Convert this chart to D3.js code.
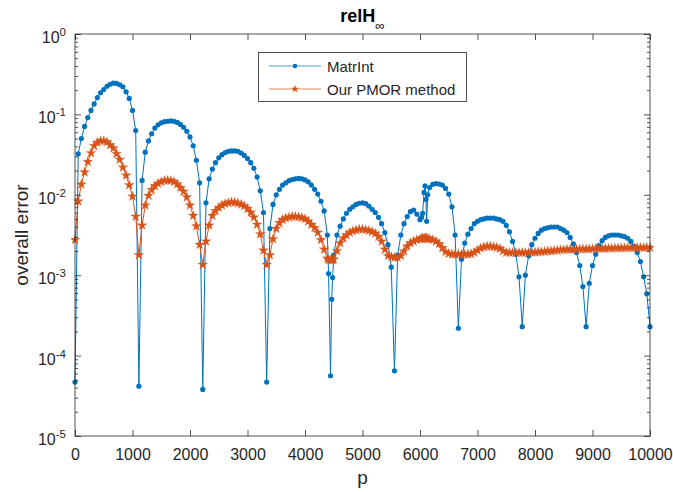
<!DOCTYPE html>
<html>
<head>
<meta charset="utf-8">
<script src="https://cdn.jsdelivr.net/npm/d3@7"></script>
<style>
  body { margin: 0; background: #fff; }
  svg { display: block; font-family: "Liberation Sans", Arial, Helvetica, sans-serif; }
</style>
</head>
<body>
<script>
// ---- data ----
const p = [
  0,56,111,167,222,278,333,389,444,500,556,611,667,722,778,833,889,944,1000,1056,1111,
  1167,1222,1278,1333,1389,1444,1500,1556,1611,1667,1722,1778,1833,1889,1944,2000,2056,2111,2167,2222,
  2278,2333,2389,2444,2500,2556,2611,2667,2722,2778,2833,2889,2944,3000,3056,3111,3167,3222,3278,3333,
  3389,3444,3500,3556,3611,3667,3722,3778,3833,3889,3944,4000,4056,4111,4167,4222,4278,4333,4389,4410,4444,4465,4480,
  4500,4556,4611,4667,4722,4778,4833,4889,4944,5000,5056,5111,5167,5222,5278,5333,5389,5444,5500,5556,
  5611,5667,5722,5778,5833,5889,5944,6000,6028,6047,6070,6087,6104,6116,6134,6167,6222,6278,6333,6389,6444,6500,6556,6611,6667,
  6722,6778,6833,6889,6944,7000,7056,7111,7167,7222,7278,7333,7389,7444,7500,7556,7611,7667,7722,7778,
  7833,7889,7944,8000,8056,8111,8167,8222,8278,8333,8389,8444,8500,8556,8611,8667,8722,8778,8833,8889,
  8944,9000,9056,9111,9167,9222,9278,9333,9389,9444,9500,9556,9611,9667,9722,9778,9833,9889,9944,10000
];

const matrInt = [
  4.68e-5,3.24e-2,5.01e-2,7.08e-2,9.12e-2,0.112,0.135,0.162,0.186,0.204,0.224,0.237,0.245,0.243,0.234,0.221,0.191,0.158,0.112,0.0631,4.17e-5,
  0.0151,0.0339,0.0468,0.0575,0.0676,0.0741,0.0785,0.0813,0.0822,0.0832,0.0822,0.0794,0.0750,0.0692,0.0617,0.0525,0.0407,0.0269,0.0141,3.80e-5,
  7.94e-3,0.0158,0.0209,0.0251,0.0288,0.0316,0.0335,0.0347,0.0351,0.0351,0.0347,0.0331,0.0309,0.0282,0.0251,0.0214,0.0166,0.0112,6.03e-3,4.68e-5,
  3.80e-3,7.59e-3,0.0100,0.0117,0.0132,0.0141,0.0150,0.0155,0.0158,0.0160,0.0158,0.0153,0.0145,0.0132,0.0117,0.0102,8.32e-3,6.31e-3,3.16e-3,1.05e-3,5.62e-5,5.01e-4,9.33e-4,
  1.78e-3,3.16e-3,4.07e-3,5.01e-3,5.89e-3,6.61e-3,7.08e-3,7.59e-3,7.85e-3,7.94e-3,7.76e-3,7.24e-3,6.61e-3,6.03e-3,5.25e-3,4.37e-3,3.39e-3,2.40e-3,1.26e-3,6.46e-5,
  1.78e-3,3.16e-3,4.37e-3,5.37e-3,6.17e-3,6.46e-3,5.75e-3,4.90e-3,5.25e-3,5.89e-3,0.0107,0.0129,8.71e-3,4.68e-3,0.0100,0.0123,0.0135,0.0138,0.0136,0.0132,0.0120,0.0102,7.08e-3,3.16e-3,2.19e-4,
  1.58e-3,2.51e-3,3.24e-3,3.80e-3,4.37e-3,4.68e-3,4.90e-3,5.01e-3,5.13e-3,5.13e-3,5.13e-3,5.01e-3,4.90e-3,4.68e-3,4.17e-3,3.47e-3,2.63e-3,1.82e-3,9.55e-4,2.29e-4,
  1.00e-3,1.74e-3,2.40e-3,2.88e-3,3.31e-3,3.63e-3,3.80e-3,3.89e-3,3.98e-3,3.98e-3,3.98e-3,3.80e-3,3.63e-3,3.39e-3,2.95e-3,2.45e-3,1.91e-3,1.32e-3,7.24e-4,2.29e-4,
  7.94e-4,1.32e-3,1.82e-3,2.34e-3,2.69e-3,2.95e-3,3.09e-3,3.16e-3,3.16e-3,3.16e-3,3.09e-3,3.02e-3,2.88e-3,2.63e-3,2.29e-3,1.91e-3,1.48e-3,9.55e-4,5.89e-4,2.29e-4
];

const pmor = [
  2.75e-3,8.32e-3,0.0135,0.0191,0.0257,0.0331,0.0407,0.0447,0.0468,0.0468,0.0452,0.0417,0.0380,0.0324,0.0275,0.0219,0.0174,0.0132,9.55e-3,5.37e-3,1.78e-3,
  4.17e-3,7.41e-3,9.77e-3,0.0115,0.0129,0.0138,0.0145,0.0150,0.0151,0.0150,0.0145,0.0136,0.0123,0.0110,9.33e-3,7.41e-3,5.50e-3,4.07e-3,2.40e-3,1.35e-3,
  2.63e-3,4.17e-3,5.50e-3,6.31e-3,6.92e-3,7.41e-3,7.76e-3,7.94e-3,8.13e-3,8.04e-3,7.85e-3,7.59e-3,7.24e-3,6.76e-3,6.03e-3,5.25e-3,4.27e-3,3.24e-3,2.04e-3,1.35e-3,
  1.78e-3,2.82e-3,3.80e-3,4.47e-3,4.90e-3,5.13e-3,5.25e-3,5.37e-3,5.37e-3,5.31e-3,5.19e-3,5.01e-3,4.68e-3,4.27e-3,3.89e-3,3.39e-3,2.75e-3,2.09e-3,1.62e-3,1.55e-3,1.55e-3,1.55e-3,1.55e-3,
  1.58e-3,2.00e-3,2.51e-3,2.88e-3,3.16e-3,3.39e-3,3.55e-3,3.63e-3,3.72e-3,3.72e-3,3.67e-3,3.59e-3,3.47e-3,3.31e-3,3.02e-3,2.63e-3,2.09e-3,1.74e-3,1.70e-3,1.66e-3,
  1.66e-3,1.74e-3,2.00e-3,2.29e-3,2.51e-3,2.63e-3,2.75e-3,2.82e-3,2.85e-3,2.88e-3,2.88e-3,2.88e-3,2.88e-3,2.88e-3,2.85e-3,2.82e-3,2.75e-3,2.63e-3,2.45e-3,2.19e-3,1.95e-3,1.86e-3,1.82e-3,1.82e-3,1.82e-3,
  1.82e-3,1.82e-3,1.82e-3,1.84e-3,1.91e-3,2.04e-3,2.16e-3,2.24e-3,2.29e-3,2.29e-3,2.26e-3,2.21e-3,2.14e-3,2.00e-3,1.91e-3,1.91e-3,1.91e-3,1.91e-3,1.91e-3,1.91e-3,
  1.91e-3,1.91e-3,1.93e-3,1.93e-3,1.95e-3,1.95e-3,1.97e-3,2.00e-3,2.00e-3,2.02e-3,2.04e-3,2.07e-3,2.07e-3,2.09e-3,2.09e-3,2.09e-3,2.10e-3,2.11e-3,2.11e-3,2.11e-3,
  2.12e-3,2.13e-3,2.14e-3,2.14e-3,2.15e-3,2.15e-3,2.16e-3,2.16e-3,2.17e-3,2.17e-3,2.18e-3,2.18e-3,2.19e-3,2.19e-3,2.19e-3,2.20e-3,2.20e-3,2.20e-3,2.21e-3,2.21e-3
];

const seriesNames = ["MatrInt", "Our PMOR method"];
const xTicks = [0,1000,2000,3000,4000,5000,6000,7000,8000,9000,10000];
const yTickExps = [0,-1,-2,-3,-4,-5];
const titleMain = "relH";
const titleSub = "\u221E";
const xLabel = "p";
const yLabel = "overall error";

// ---- drawing ----
const W = 673, H = 492;
const L = 75, R = 650, T = 34, B = 436;
const blue = "#0072BD", orange = "#D95319", axisCol = "#262626";

const svg = d3.select("body").append("svg").attr("width", W).attr("height", H);
const x = d3.scaleLinear().domain([0, 10000]).range([L, R]);
const y = d3.scaleLog().domain([1e-5, 1]).range([B, T]);

svg.append("rect").attr("x", L).attr("y", T).attr("width", R - L).attr("height", B - T).attr("fill", "#fff");

const blueData = p.map((v, i) => [v, matrInt[i]]);
const orangeData = p.map((v, i) => [v, pmor[i]]);
const line = d3.line().x(d => x(d[0])).y(d => y(d[1]));

const clipId = "plotclip";
svg.append("clipPath").attr("id", clipId).append("rect")
  .attr("x", L - 4).attr("y", T).attr("width", R - L + 8).attr("height", B - T);
const plot = svg.append("g").attr("clip-path", `url(#${clipId})`);

const circ = d3.symbol().type(d3.symbolCircle).size(21);
const star = d3.symbol().type(d3.symbolStar).size(30);
const circLeg = d3.symbol().type(d3.symbolCircle).size(16);
const starLeg = d3.symbol().type(d3.symbolStar).size(20);

// MatrInt
plot.append("path").datum(blueData).attr("d", line)
  .attr("fill", "none").attr("stroke", blue).attr("stroke-width", 1);
plot.append("g").selectAll("path").data(blueData).join("path")
  .attr("d", circ).attr("transform", d => `translate(${x(d[0])},${y(d[1])})`)
  .attr("fill", blue);

// PMOR
plot.append("path").datum(orangeData).attr("d", line)
  .attr("fill", "none").attr("stroke", orange).attr("stroke-width", 1);
plot.append("g").selectAll("path").data(orangeData).join("path")
  .attr("d", star).attr("transform", d => `translate(${x(d[0])},${y(d[1])})`)
  .attr("fill", orange).attr("stroke", orange).attr("stroke-width", 0.5).attr("stroke-opacity", 0.5);

// axes box
const ax = svg.append("g").attr("stroke", axisCol).attr("stroke-width", 0.8).attr("fill", "none");
ax.append("rect").attr("x", L).attr("y", T).attr("width", R - L).attr("height", B - T);

// x ticks (inside, bottom & top)
const xAxis = d3.axisBottom(x).tickValues(xTicks).tickSizeInner(-6).tickSizeOuter(0).tickPadding(13).tickFormat(d3.format("d"));
const gx = svg.append("g").attr("transform", `translate(0,${B})`).call(xAxis);
gx.select(".domain").remove();
gx.selectAll(".tick line").attr("stroke", axisCol).attr("stroke-width", 0.8);
gx.selectAll(".tick text").attr("fill", axisCol).attr("font-size", 16).attr("font-family", "Liberation Sans, Arial, sans-serif");
const xTop = d3.axisTop(x).tickValues(xTicks).tickSizeInner(-6).tickSizeOuter(0).tickFormat("");
const gxt = svg.append("g").attr("transform", `translate(0,${T})`).call(xTop);
gxt.select(".domain").remove();
gxt.selectAll(".tick line").attr("stroke", axisCol).attr("stroke-width", 0.8);

// y ticks major/minor (inside, left & right)
const majorVals = yTickExps.map(e => Math.pow(10, e));
const minorVals = [];
yTickExps.filter(e => e < 0).forEach(e => { for (let m = 2; m <= 9; m++) minorVals.push(m * Math.pow(10, e)); });
const yL = d3.axisLeft(y).tickValues(majorVals).tickSizeInner(-6).tickSizeOuter(0).tickFormat("");
const yLm = d3.axisLeft(y).tickValues(minorVals).tickSizeInner(-3).tickSizeOuter(0).tickFormat("");
const yR = d3.axisRight(y).tickValues(majorVals).tickSizeInner(-6).tickSizeOuter(0).tickFormat("");
const yRm = d3.axisRight(y).tickValues(minorVals).tickSizeInner(-3).tickSizeOuter(0).tickFormat("");
[[yL, L], [yLm, L], [yR, R], [yRm, R]].forEach(([a, pos]) => {
  const g = svg.append("g").attr("transform", `translate(${pos},0)`).call(a);
  g.select(".domain").remove();
  g.selectAll(".tick line").attr("stroke", axisCol).attr("stroke-width", 0.8);
});

// y tick labels 10^e
const ylab = svg.append("g").attr("fill", axisCol).attr("font-family", "Liberation Sans, Arial, sans-serif");
yTickExps.forEach(e => {
  const t = ylab.append("text").attr("x", 66).attr("y", y(Math.pow(10, e)) + 9).attr("text-anchor", "end");
  t.append("tspan").attr("font-size", 16).text("10");
  t.append("tspan").attr("font-size", 11.5).attr("dy", -7).text(e === 0 ? "0" : "-" + Math.abs(e));
});

// title
const tt = svg.append("text").attr("x", (L + R) / 2).attr("y", 22).attr("text-anchor", "middle").attr("fill", "#000");
tt.append("tspan").attr("font-size", 18).attr("font-weight", "bold").text(titleMain);
tt.append("tspan").attr("font-size", 13).attr("dy", 8).text(titleSub);

// axis labels
svg.append("text").attr("x", (L + R) / 2).attr("y", 484).attr("text-anchor", "middle")
  .attr("font-size", 19).attr("fill", axisCol).text(xLabel);
svg.append("text").attr("transform", `translate(28,${(T + B) / 2}) rotate(-90)`).attr("text-anchor", "middle")
  .attr("font-size", 19).attr("fill", axisCol).text(yLabel);

// legend
const lg = svg.append("g");
lg.append("rect").attr("x", 258.5).attr("y", 52.5).attr("width", 208).attr("height", 49)
  .attr("fill", "#fff").attr("stroke", axisCol).attr("stroke-width", 0.8);
const rows = [
  { name: seriesNames[0], col: blue, sym: circLeg, yy: 66 },
  { name: seriesNames[1], col: orange, sym: starLeg, yy: 89 }
];
rows.forEach(r => {
  lg.append("line").attr("x1", 269).attr("x2", 321).attr("y1", r.yy).attr("y2", r.yy)
    .attr("stroke", r.col).attr("stroke-width", 1).attr("stroke-opacity", 0.7);
  lg.append("path").attr("d", r.sym).attr("transform", `translate(295,${r.yy})`).attr("fill", r.col);
  lg.append("text").attr("x", 327).attr("y", r.yy + 5.5).attr("font-size", 15).attr("fill", axisCol).text(r.name);
});
</script>
</body>
</html>
